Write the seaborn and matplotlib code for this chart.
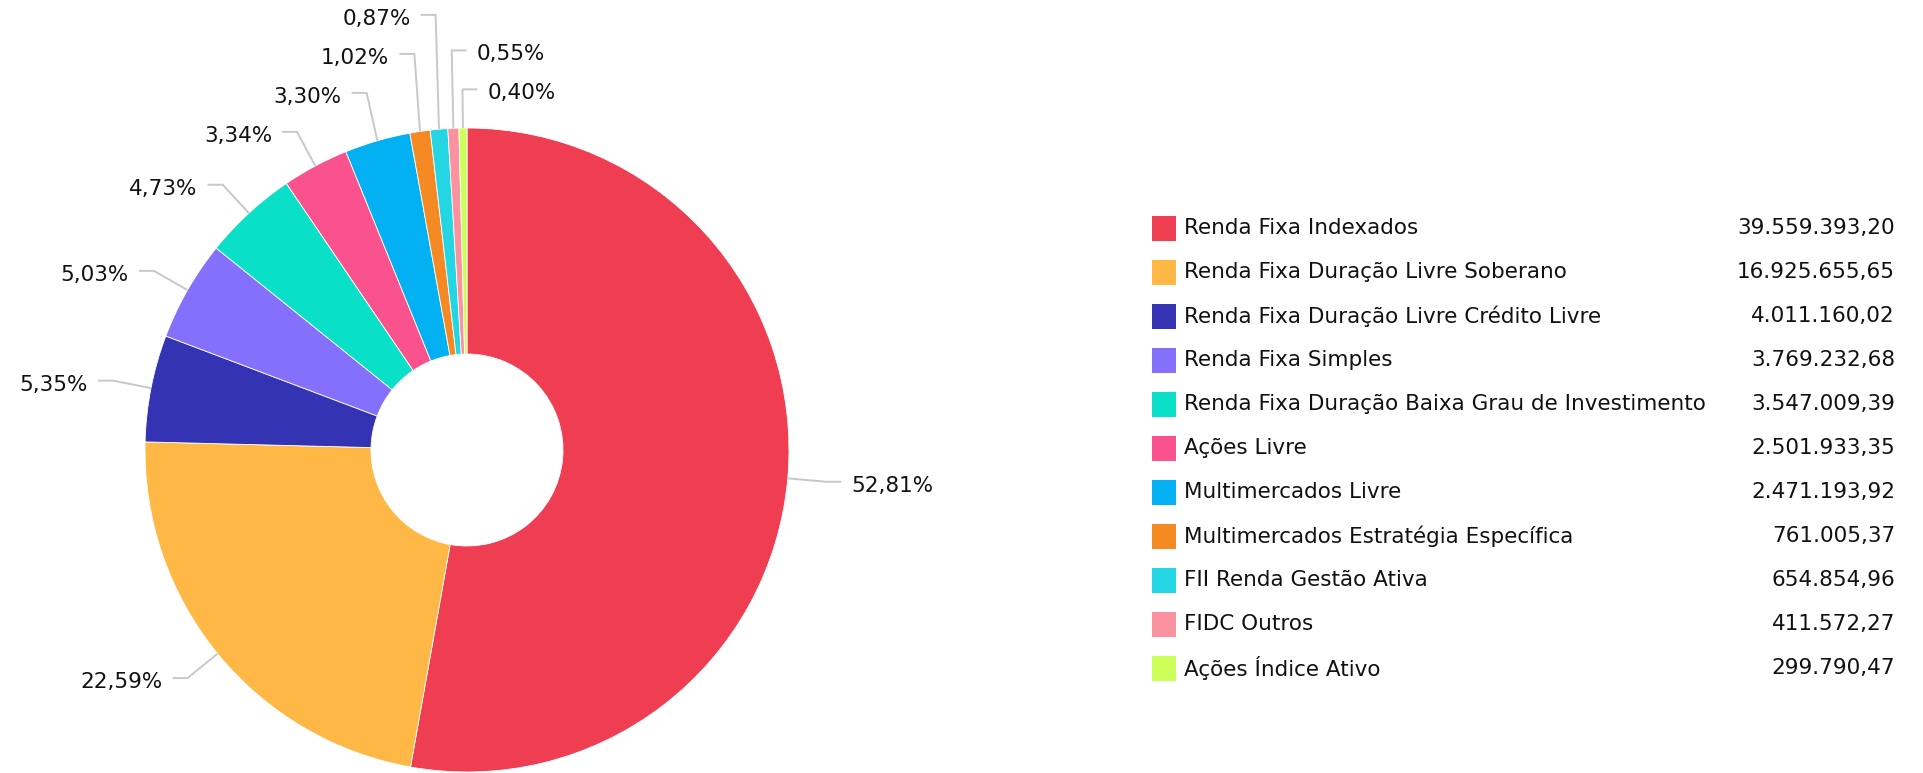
import numpy as np
import matplotlib
matplotlib.use("Agg")
import matplotlib.pyplot as plt
from matplotlib.patches import Rectangle
import seaborn as sns

# Data
categories = [
    "Renda Fixa Indexados",
    "Renda Fixa Duração Livre Soberano",
    "Renda Fixa Duração Livre Crédito Livre",
    "Renda Fixa Simples",
    "Renda Fixa Duração Baixa Grau de Investimento",
    "Ações Livre",
    "Multimercados Livre",
    "Multimercados Estratégia Específica",
    "FII Renda Gestão Ativa",
    "FIDC Outros",
    "Ações Índice Ativo",
]
values = [39559393.20, 16925655.65, 4011160.02, 3769232.68, 3547009.39,
          2501933.35, 2471193.92, 761005.37, 654854.96, 411572.27, 299790.47]
colors = ["#EF3D52", "#FFB845", "#3333B4", "#8470FB", "#0ADFC8", "#F9528C",
          "#03B1F2", "#F58A24", "#24D5E4", "#FB929F", "#CCFF5A"]

sns.set_theme(style="white")
plt.rcParams['font.family'] = ['DejaVu Sans']

W, H = 1923, 773
fig = plt.figure(figsize=(W / 100, H / 100), dpi=100)
ax = fig.add_axes([0, 0, 1, 1])

cx, cy = 467, H - 450
R, r_in = 322, 96
fs = 15.5

palette = sns.color_palette(colors)
ax.pie(values, colors=palette, startangle=90, counterclock=False,
       center=(cx, cy), radius=R,
       wedgeprops=dict(width=R - r_in, edgecolor="white", linewidth=0.6))
ax.set_xlim(0, W)
ax.set_ylim(0, H)
ax.set_aspect("equal")
ax.axis("off")

# percentage labels with leader lines
total = sum(values)
cum = np.cumsum(values)
cw_mid = 360 * (cum - np.array(values) / 2) / total
line_col = "#c8c8c8"
gap = 39

labels = []
for i, v in enumerate(values):
    a = cw_mid[i]
    right = a < 180 or a > 357
    key = a - 360 if a > 357 else a
    th = np.radians(90 - a)
    ax0, ay0 = cx + R * np.cos(th), cy + R * np.sin(th)
    ex, ey = cx + 1.12 * R * np.cos(th), cy + 1.12 * R * np.sin(th)
    labels.append(dict(i=i, right=right, key=key, anchor=(ax0, ay0), ex=ex, ey=ey))

for side in (True, False):
    grp = [l for l in labels if l["right"] == side]
    # bottom-up order
    grp.sort(key=lambda l: -l["key"] if side else l["key"])
    prev = None
    for l in grp:
        if prev is not None:
            l["ey"] = max(l["ey"], prev + gap)
        prev = l["ey"]

for l in labels:
    i = l["i"]
    sgn = 1 if l["right"] else -1
    x0, y0 = l["anchor"]
    hx = l["ex"] + sgn * 15
    ax.plot([x0, l["ex"], hx], [y0, l["ey"], l["ey"]], color=line_col, lw=1.4,
            solid_capstyle="butt", zorder=1)
    txt = f"{values[i] / total * 100:.2f}".replace(".", ",") + "%"
    ax.text(hx + sgn * 10, l["ey"] - 4, txt, ha="left" if l["right"] else "right",
            va="center", fontsize=fs, color="#111111")

# legend with values
row0, step = H - 228, 44
for i, (name, v) in enumerate(zip(categories, values)):
    y = row0 - i * step
    ax.add_patch(Rectangle((1152, y - 12.5), 24, 25, facecolor=palette[i], edgecolor="none"))
    ax.text(1184, y, name, ha="left", va="center", fontsize=fs, color="#111111")
    s = f"{v:,.2f}".replace(",", "X").replace(".", ",").replace("X", ".")
    ax.text(1895, y, s, ha="right", va="center", fontsize=fs, color="#111111")

fig.savefig("out.png", dpi=100, facecolor="white")
